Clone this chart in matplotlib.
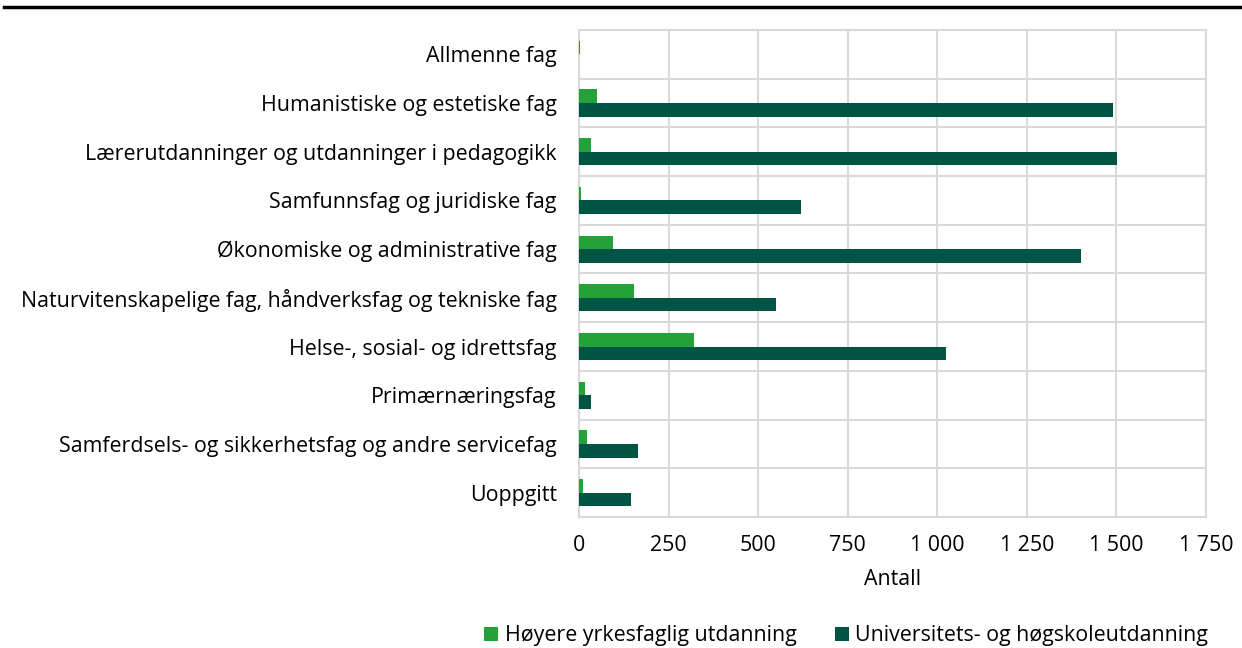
import numpy as np
import matplotlib.pyplot as plt
from matplotlib.lines import Line2D
from matplotlib.ticker import FuncFormatter, MultipleLocator

plt.rcParams['font.family'] = ['Open Sans', 'DejaVu Sans']

categories = [
    'Allmenne fag',
    'Humanistiske og estetiske fag',
    'Lærerutdanninger og utdanninger i pedagogikk',
    'Samfunnsfag og juridiske fag',
    'Økonomiske og administrative fag',
    'Naturvitenskapelige fag, håndverksfag og tekniske fag',
    'Helse-, sosial- og idrettsfag',
    'Primærnæringsfag',
    'Samferdsels- og sikkerhetsfag og andre servicefag',
    'Uoppgitt',
]
yrkesfaglig = [3, 49, 33, 6, 95, 153, 320, 16, 21, 11]
universitet = [0, 1491, 1503, 620, 1401, 550, 1024, 33, 165, 146]
series_names = ['Høyere yrkesfaglig utdanning', 'Universitets- og høgskoleutdanning']

light = '#24A23A'
dark = '#005443'
grid = '#D9D9D9'
fs = 15.4

fig = plt.figure(figsize=(12.42, 6.48), dpi=100)
ax = fig.add_axes([0.4662, 0.2022, 0.5048, 0.7515])

y = np.arange(len(categories))
h = 0.28
ax.barh(y - h / 2, yrkesfaglig, height=h, color=light, label=series_names[0], zorder=3)
ax.barh(y + h / 2, universitet, height=h, color=dark, label=series_names[1], zorder=3)

ax.set_xlim(0, 1750)
ax.set_ylim(len(categories) - 0.5, -0.5)
ax.xaxis.set_major_locator(MultipleLocator(250))
ax.xaxis.set_major_formatter(FuncFormatter(lambda v, p: f'{int(v):,}'.replace(',', ' ')))
ax.set_yticks(y)
ax.set_yticklabels(categories)
ax.set_yticks(np.arange(len(categories) + 1) - 0.5, minor=True)

ax.grid(axis='x', which='major', color=grid, linewidth=1.5, zorder=0)
ax.grid(axis='y', which='minor', color=grid, linewidth=1.5, zorder=0)
ax.tick_params(axis='both', which='both', length=0, labelsize=fs, colors='black')
ax.tick_params(axis='x', pad=13)
ax.tick_params(axis='y', pad=16)
for s in ax.spines.values():
    s.set_color(grid)
    s.set_linewidth(1.5)

ax.set_xlabel('Antall', fontsize=fs, labelpad=9)

ax.legend(loc='center right', bbox_to_anchor=(1.017, -0.244), bbox_transform=ax.transAxes,
          ncol=2, frameon=False, fontsize=fs, handlelength=0.65, handleheight=0.65,
          handletextpad=0.3, columnspacing=1.8, borderaxespad=0)

# black rule across the top
fig.add_artist(Line2D([0.003, 1.0], [0.9895, 0.9895], color='black', linewidth=2.5,
                      transform=fig.transFigure))

fig.savefig('out.png', dpi=100, facecolor='white')
